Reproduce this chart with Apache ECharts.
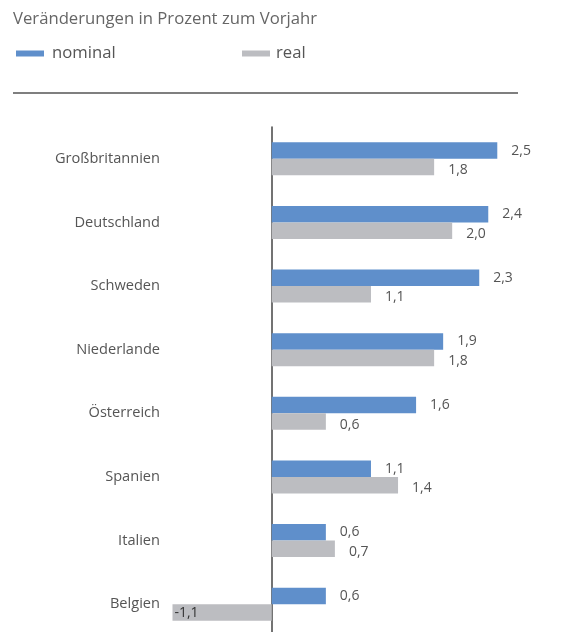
<!DOCTYPE html>
<html><head><meta charset="utf-8">
<script src="https://cdn.jsdelivr.net/npm/echarts@6/dist/echarts.min.js"></script>
<style>html,body{margin:0;padding:0;background:#fff}#c{width:574px;height:632px}</style>
</head><body><div id="c"></div>
<script>
const categories = ['Großbritannien','Deutschland','Schweden','Niederlande','Österreich','Spanien','Italien','Belgien'];
const nominal = [2.5, 2.4, 2.3, 1.9, 1.6, 1.1, 0.6, 0.6];
const real = [1.8, 2.0, 1.1, 1.8, 0.6, 1.4, 0.7, -1.1];
const titleText = 'Veränderungen in Prozent zum Vorjahr';

const FONT = 'Open Sans';
const fmt = v => v.toFixed(1).replace('.', ',');

function makeData(arr, dy) {
  return arr.map(v => v < 0 ? {
    value: v,
    label: { position: 'insideLeft', distance: 2, color: '#333', offset: [0, dy] }
  } : { value: v });
}

const chart = echarts.init(document.getElementById('c'), null, { renderer: 'canvas' });
chart.setOption({
  animation: false,
  textStyle: { fontFamily: FONT },
  title: {
    text: titleText, left: 8, top: 6,
    textStyle: { fontFamily: FONT, fontSize: 16.7, fontWeight: 'normal', color: '#666' }
  },
  legend: [
    { data: ['nominal'], left: 11, top: 40, icon: 'rect', itemWidth: 28, itemHeight: 6, itemGap: 0,
      textStyle: { fontFamily: FONT, fontSize: 16.7, color: '#555', padding: [0, 0, 0, 3] } },
    { data: ['real'], left: 237, top: 40, icon: 'rect', itemWidth: 28, itemHeight: 6,
      textStyle: { fontFamily: FONT, fontSize: 16.7, color: '#555', padding: [0, 0, 0, 1] } }
  ],
  graphic: [{
    type: 'line', shape: { x1: 13, y1: 93, x2: 518, y2: 93 },
    style: { stroke: '#555', lineWidth: 1.3 }
  }],
  grid: { left: 136.4, top: 127, width: 406, height: 509, containLabel: false, outerBoundsMode: 'none' },
  xAxis: {
    type: 'value', min: -1.5, max: 3, show: false
  },
  yAxis: {
    type: 'category', data: categories, inverse: true,
    axisLine: { show: true, lineStyle: { color: '#444', width: 1.5 } },
    axisTick: { show: false },
    axisLabel: { margin: -23.6, fontFamily: FONT, fontSize: 14.6, color: '#555' }
  },
  series: [
    { name: 'nominal', type: 'bar', data: makeData(nominal, 0), barWidth: 16.5, barGap: '0%',
      itemStyle: { color: '#5f8fcb' },
      label: { show: true, position: 'right', distance: 14, offset: [0, 0],
        formatter: p => fmt(p.value), fontFamily: FONT, fontSize: 14, color: '#555' } },
    { name: 'real', type: 'bar', data: makeData(real, 1), barWidth: 16.5, barGap: '0%',
      itemStyle: { color: '#bcbdc1' },
      label: { show: true, position: 'right', distance: 14, offset: [0, 3],
        formatter: p => fmt(p.value), fontFamily: FONT, fontSize: 14, color: '#555' } }
  ]
});
</script></body></html>
